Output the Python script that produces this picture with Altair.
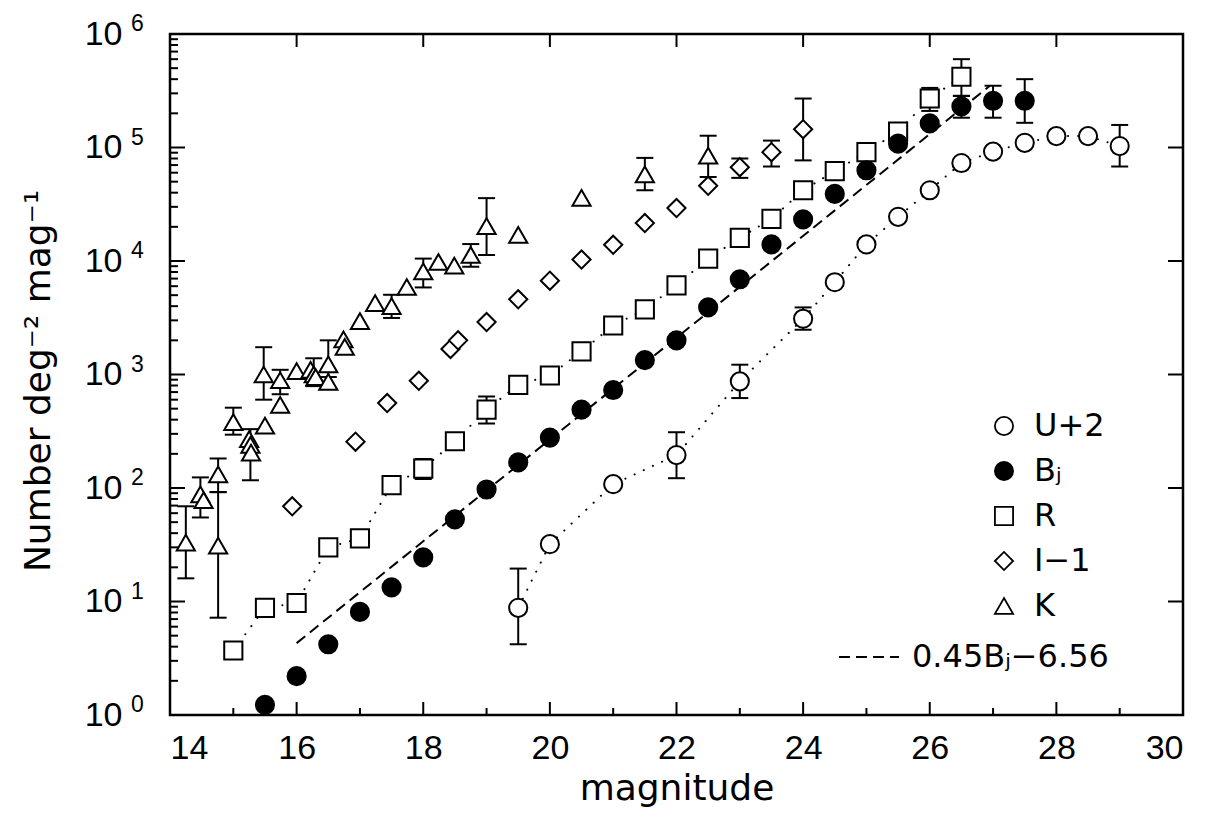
import altair as alt
import pandas as pd

# ---------------- data ----------------
# U+2 (open circles)
u_mag = [19.5, 20, 21, 22, 23, 24, 24.5, 25, 25.5, 26, 26.5, 27, 27.5, 28, 28.5, 29]
u_n = [8.8, 32, 108, 195, 870, 3100, 6500, 14000, 24500, 42000, 73000, 92000, 110000, 126000, 126000, 103000]
u_err_mag = [19.5, 22, 23, 24, 29]
u_err_lo = [4.2, 122, 620, 2480, 68000]
u_err_hi = [19.5, 310, 1220, 3900, 158000]

# Bj (filled circles)
b_mag = [15.5, 16, 16.5, 17, 17.5, 18, 18.5, 19, 19.5, 20, 20.5, 21, 21.5, 22, 22.5, 23, 23.5, 24,
         24.5, 25, 25.5, 26, 26.5, 27, 27.5]
b_n = [1.23, 2.2, 4.2, 8.1, 13.3, 24.5, 53, 97, 168, 278, 490, 730, 1340, 2000, 3900, 6900, 14000,
       23300, 39000, 63000, 108000, 163000, 230000, 258000, 258000]
b_err_mag = [26.5, 27, 27.5]
b_err_lo = [183000, 183000, 165000]
b_err_hi = [285000, 350000, 400000]

# R (open squares)
r_mag = [15, 15.5, 16, 16.5, 17, 17.5, 18, 18.5, 19, 19.5, 20, 20.5, 21, 21.5, 22, 22.5, 23, 23.5,
         24, 24.5, 25, 25.5, 26, 26.5]
r_n = [3.7, 8.8, 9.7, 30, 36, 106, 148, 258, 490, 810, 980, 1600, 2700, 3750, 6100, 10500, 16000,
       23500, 42000, 62000, 91000, 138000, 270000, 420000]
r_err_mag = [18, 19, 26, 26.5]
r_err_lo = [120, 370, 210000, 285000]
r_err_hi = [180, 640, 335000, 600000]

# I-1 (open diamonds)
i_mag = [15.93, 16.93, 17.43, 17.93, 18.43, 18.55, 19.0, 19.5, 20.0, 20.5, 21.0, 21.5, 22.0, 22.5,
         23.0, 23.5, 24.0]
i_n = [69, 256, 560, 880, 1680, 2000, 2900, 4600, 6700, 10300, 13900, 21600, 29300, 46000, 67000,
       91000, 145000]
i_err_mag = [23, 23.5, 24]
i_err_lo = [54000, 68000, 77000]
i_err_hi = [80000, 115000, 270000]

# K (open triangles)
k_mag = [14.25, 14.48, 14.53, 14.76, 14.76, 15.0, 15.25, 15.27, 15.28, 15.48, 15.5, 15.74, 15.74,
         16.0, 16.22, 16.27, 16.3, 16.5, 16.5, 16.74, 16.76, 17.0, 17.24, 17.5, 17.74, 18.0, 18.24,
         18.49, 18.75, 19.0, 19.5, 20.5, 21.5, 22.5]
k_n = [33, 88, 78, 132, 31, 380, 270, 240, 205, 1000, 355, 890, 540, 1070, 1100, 1000, 950, 860,
       1230, 2040, 1750, 2950, 4250, 4000, 5900, 8100, 9800, 9100, 11300, 20300, 17000, 36000,
       58000, 85000]
k_err_mag = [14.25, 14.48, 14.76, 14.76, 15.0, 15.27, 15.48, 15.74, 16.27, 16.5, 17.5, 18.0, 18.75,
             19.0, 21.5, 22.5]
k_err_lo = [16, 55, 92, 7.2, 295, 117, 600, 670, 790, 950, 3150, 5850, 8900, 11300, 42000, 55000]
k_err_hi = [69, 124, 182, 92, 510, 330, 1740, 1100, 1390, 2000, 5040, 10500, 14100, 35800, 81000,
            127000]

# fit line 0.45Bj-6.56 (end points)
fit_mag = [16.0, 26.95]
fit_n = [4.3, 350000]

bands = ["U+2", "Bⱼ", "R", "I−1", "K"]
shapes = ["circle", "circle", "square", "diamond", "triangle-up"]
fills = ["white", "black", "white", "white", "white"]
sizes = [330, 330, 300, 210, 280]
fit_label = "0.45Bⱼ−6.56"

x_major = [14, 16, 18, 20, 22, 24, 26, 28, 30]
x_minor = [15, 17, 19, 21, 23, 25, 27, 29]
y_major = [1, 10, 100, 1000, 10000, 100000, 1000000]
y_exp = ["0", "1", "2", "3", "4", "5", "6"]
y_minor = [m * 10 ** k for k in range(6) for m in range(2, 10)]

# ---------------- tables ----------------
order = [("K", k_mag, k_n), ("I−1", i_mag, i_n), ("R", r_mag, r_n), ("U+2", u_mag, u_n), ("Bⱼ", b_mag, b_n)]
pts = pd.DataFrame([{"mag": m, "n": n, "band": b} for b, ms, ns in order for m, n in zip(ms, ns)])

err_mag = u_err_mag + b_err_mag + r_err_mag + i_err_mag + k_err_mag
err_lo = u_err_lo + b_err_lo + r_err_lo + i_err_lo + k_err_lo
err_hi = u_err_hi + b_err_hi + r_err_hi + i_err_hi + k_err_hi
err = pd.DataFrame({"mag": err_mag, "lo": err_lo, "hi": err_hi})
caps = pd.DataFrame({"mag": err_mag + err_mag, "n": err_lo + err_hi})

dots = pd.DataFrame([{"mag": m, "n": n, "band": b} for b, ms, ns in
                     [("U+2", u_mag, u_n), ("R", r_mag, r_n)] for m, n in zip(ms, ns)])
fit = pd.DataFrame({"mag": fit_mag, "n": fit_n, "lab": [fit_label] * len(fit_mag)})

FT = "DejaVu Sans"
FL = "Liberation Sans"
W, H = 1013, 681

xs = alt.Scale(domain=[14, 30], nice=False, zero=False)
ys = alt.Scale(type="log", domain=[1, 1e6], nice=False)

x_axis = alt.Axis(values=x_major, format="d", ticks=False, tickSize=0, domain=False, grid=False,
                  labelPadding=16, labelFont=FL, labelFontSize=34, labelColor="black",
                  title="magnitude", titleFont=FT, titleFontSize=36, titleFontWeight="normal",
                  titleColor="black", titlePadding=6)
y_axis = alt.Axis(values=y_major, labelExpr="'10'", ticks=False, tickSize=0, domain=False, grid=False,
                  labelPadding=48, labelFont=FL, labelFontSize=34, labelColor="black",
                  title="Number    deg⁻²    mag⁻¹", titleFont=FT, titleFontSize=36,
                  titleFontWeight="normal", titleColor="black", titleX=-132, titleY=H / 2 + 6,
                  titleAlign="center", titleBaseline="middle", titleAngle=270, titleLimit=700)


def X(f):
    return alt.X(f, type="quantitative", scale=xs, axis=x_axis)


def Y(f):
    return alt.Y(f, type="quantitative", scale=ys, axis=y_axis)


tx_major = pd.DataFrame({"v": x_major})
tx_minor = pd.DataFrame({"v": x_minor})
ty_major = pd.DataFrame({"v": y_major, "e": y_exp})
ty_minor = pd.DataFrame({"v": y_minor})

tick_style = dict(color="black", strokeWidth=2)
ticks = [
    alt.Chart(tx_major).mark_rule(**tick_style).encode(x=X("v"), y=alt.value(H), y2=alt.value(H - 13)),
    alt.Chart(tx_major).mark_rule(**tick_style).encode(x=X("v"), y=alt.value(0), y2=alt.value(13)),
    alt.Chart(tx_minor).mark_rule(**tick_style).encode(x=X("v"), y=alt.value(H), y2=alt.value(H - 7)),
    alt.Chart(ty_major).mark_rule(**tick_style).encode(y=Y("v"), x=alt.value(0), x2=alt.value(15)),
    alt.Chart(ty_major).mark_rule(**tick_style).encode(y=Y("v"), x=alt.value(W), x2=alt.value(W - 15)),
    alt.Chart(ty_minor).mark_rule(**tick_style).encode(y=Y("v"), x=alt.value(0), x2=alt.value(8)),
]

exps = alt.Chart(ty_major).mark_text(align="left", baseline="middle", dy=-10, fontSize=23, font=FL,
                                     color="black").encode(y=Y("v"), x=alt.value(-39), text="e:N")

bars = alt.Chart(err).mark_rule(color="black", strokeWidth=2).encode(x=X("mag"), y=Y("lo"), y2="hi")
capm = alt.Chart(caps).mark_tick(orient="horizontal", size=17, thickness=2, color="black",
                                 opacity=1).encode(x=X("mag"), y=Y("n"))

dotted = alt.Chart(dots).mark_line(color="black", strokeWidth=2, strokeDash=[0.1, 10],
                                   strokeCap="round").encode(x=X("mag"), y=Y("n"), detail="band:N")

fit_leg = alt.Legend(title=None, orient="none", legendX=668, legendY=592, symbolType="stroke",
                     symbolSize=3600, symbolStrokeWidth=2, symbolStrokeColor="black",
                     labelFont=FT, labelFontSize=32, labelColor="black", labelOffset=12,
                     labelLimit=400, padding=0)
fitl = alt.Chart(fit).mark_line(color="black", strokeWidth=2).encode(
    x=X("mag"), y=Y("n"),
    strokeDash=alt.StrokeDash("lab:N", scale=alt.Scale(domain=[fit_label], range=[[11, 6]]),
                              legend=fit_leg))

leg = alt.Legend(title=None, orient="none", legendX=818, legendY=376, labelFont=FT, labelFontSize=32,
                 labelColor="black", symbolStrokeWidth=1.8, labelLimit=300,
                 rowPadding=13, labelOffset=14, padding=0)
points = alt.Chart(pts).mark_point(filled=True, strokeWidth=2, opacity=1).encode(
    x=X("mag"), y=Y("n"),
    shape=alt.Shape("band:N", scale=alt.Scale(domain=bands, range=shapes), legend=leg),
    fill=alt.Fill("band:N", scale=alt.Scale(domain=bands, range=fills), legend=leg),
    stroke=alt.Stroke("band:N", scale=alt.Scale(domain=bands, range=["black"] * len(bands)), legend=leg),
    size=alt.Size("band:N", scale=alt.Scale(domain=bands, range=sizes), legend=leg),
)

chart = alt.layer(*ticks, bars, capm, dotted, fitl, points, exps).properties(
    width=W, height=H,
    autosize=alt.AutoSizeParams(type="none"),
    padding={"left": 162, "top": 26, "right": 26, "bottom": 100},
    background="white",
).configure_view(stroke="black", strokeWidth=2.5)

chart.save("out.html", embed_options={"renderer": "svg", "actions": False})
